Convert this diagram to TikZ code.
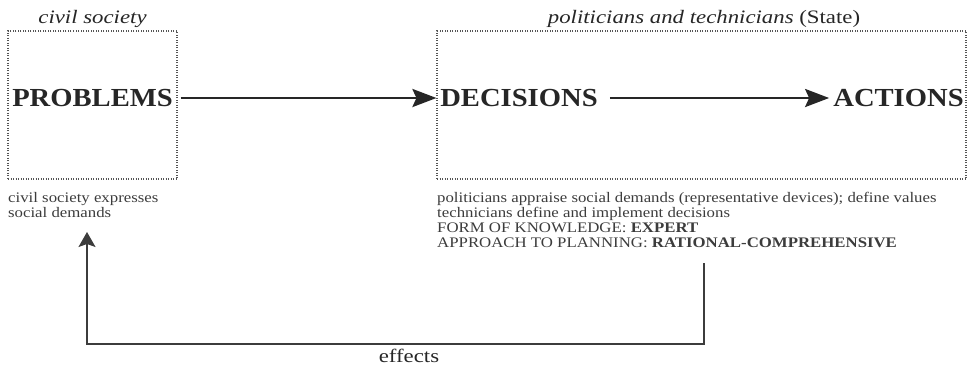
\documentclass[tikz,border=0pt]{standalone}
\usepackage{fontspec}
\setmainfont{Liberation Serif}
\newfontfamily\bigwordfont[FakeStretch=1.1]{Liberation Serif}
\newfontfamily\descfont[FakeStretch=1.15]{Liberation Serif}
\newfontfamily\headfont[FakeStretch=1.2]{Liberation Serif}
\usetikzlibrary{arrows.meta}
\definecolor{ink}{HTML}{262626}
\definecolor{desc}{HTML}{3C3C3C}
\definecolor{dotgray}{HTML}{555555}
\tikzset{
  dotbox/.style={draw=dotgray, line width=1.1pt, dash pattern=on 1pt off 1.5pt, inner sep=0pt},
  bigword/.style={font=\bigwordfont\fontsize{26}{30}\selectfont\bfseries, text=ink, inner sep=0pt},
  header/.style={font=\headfont\fontsize{19}{22}\selectfont, text=ink, inner sep=0pt, anchor=base},
  desctext/.style={font=\descfont\fontsize{14.6}{14.8}\selectfont, text=desc, align=left, inner sep=0pt, anchor=north west},
  mainarrow/.style={draw=ink, line width=2.8pt, -{Stealth[length=24pt,width=18pt,inset=4pt]}},
  fbarrow/.style={draw=desc, line width=1.1pt, -{Stealth[length=15pt,width=17pt,inset=3pt]}}
}
\begin{document}
\begin{tikzpicture}[x=1pt,y=-1pt]
\useasboundingbox (0,0) rectangle (973,368);
% boxes
\node[dotbox, minimum width=169pt, minimum height=148pt] (pbox) at (92.5,105) {};
\node[dotbox, minimum width=529pt, minimum height=148pt] (sbox) at (701.5,105) {};
% headers
\node[header] (cshead) at (92.5,23.5) {\itshape civil society};
\node[header] (sthead) at (704,23.5) {\itshape politicians and technicians \upshape(State)};
% main words
\node[bigword] (problems) at (92.5,98) {PROBLEMS};
\node[bigword] (decisions) at (519,98) {DECISIONS};
\node[bigword] (actions) at (898.5,98) {ACTIONS};
% arrows
\draw[mainarrow, shorten <=3pt] (pbox.east |- problems.center) -- (sbox.west |- decisions.center);
\draw[mainarrow, shorten <=12pt, shorten >=4pt] (decisions.east) -- (actions.west);
% descriptions
\node[desctext] (cstext) at (8,192.5) {civil society expresses\\social demands};
\node[desctext] (sttext) at (437,192.5) {politicians appraise social demands (representative devices); define values\\technicians define and implement decisions\\FORM OF KNOWLEDGE: \textbf{EXPERT}\\APPROACH TO PLANNING: \textbf{RATIONAL-COMPREHENSIVE}};
% feedback
\coordinate (fbs) at (704,263);
\coordinate (fbl) at (87,344);
\coordinate (fbe) at (87,232);
\draw[fbarrow] (fbs) |- (fbl) -- (fbe);
\node[header] (effects) at (409,362) {effects};
\end{tikzpicture}
\end{document}
